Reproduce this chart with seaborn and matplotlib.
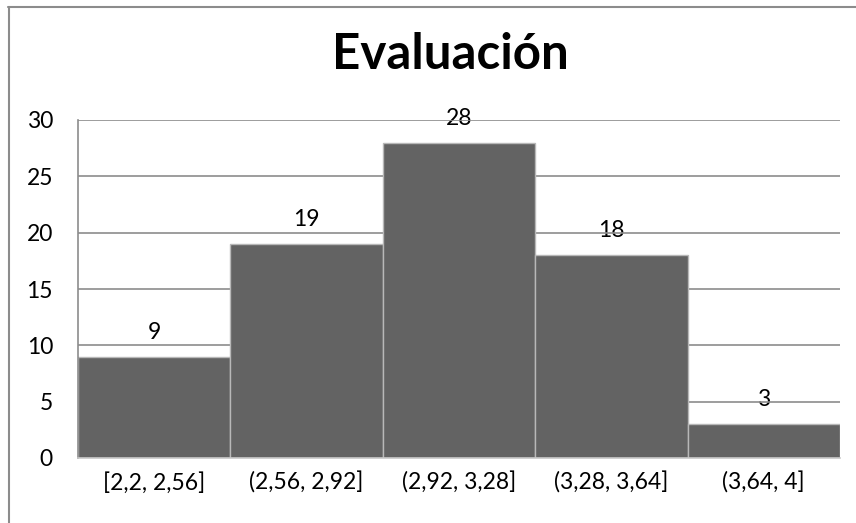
import matplotlib
matplotlib.use("Agg")
import matplotlib.pyplot as plt
from matplotlib.lines import Line2D
import seaborn as sns
import pandas as pd

# Frequency of grades per interval
intervalos = ["[2,2, 2,56]", "(2,56, 2,92]", "(2,92, 3,28]", "(3,28, 3,64]", "(3,64, 4]"]
frecuencias = [9, 19, 28, 18, 3]
y_ticks = [0, 5, 10, 15, 20, 25, 30]
titulo = "Evaluación"

sns.set_theme(style="white")
plt.rcParams["font.family"] = ["Lato", "DejaVu Sans"]

df = pd.DataFrame({"intervalo": intervalos, "frecuencia": frecuencias})

fig = plt.figure(figsize=(8.56, 5.23), dpi=100)
ax = fig.add_axes([78 / 856, 1 - 458 / 523, 762 / 856, 338 / 523])

sns.barplot(data=df, x="intervalo", y="frecuencia", color="#636363",
            saturation=1, width=1.0, edgecolor="#b8b8b8", linewidth=1.0,
            ax=ax, zorder=2)

ax.set_xlim(-0.5, len(intervalos) - 0.5)
ax.set_ylim(0, 30)
ax.set_yticks(y_ticks)
ax.set_xlabel("")
ax.set_ylabel("")

# Horizontal gridlines sit behind the bars but above the value labels
for v in y_ticks[1:]:
    ax.axhline(v, color="#8c8c8c", linewidth=1.2, zorder=1)

for i, v in enumerate(frecuencias):
    ax.annotate(str(v), (i, v), xytext=(0, 10), textcoords="offset points",
                ha="center", va="bottom", fontsize=16.5, color="black", zorder=0.5)

for side in ["top", "right"]:
    ax.spines[side].set_visible(False)
ax.spines["left"].set_color("#8c8c8c")
ax.spines["left"].set_linewidth(1.2)
ax.spines["bottom"].set_color("#c8c8c8")
ax.spines["bottom"].set_linewidth(1.2)

ax.tick_params(axis="y", length=0, pad=18, labelsize=16.5, labelcolor="black")
ax.tick_params(axis="x", length=0, pad=10, labelsize=16.5, labelcolor="black")

fig.text(0.526, 0.896, titulo, ha="center", va="center", fontsize=35.5,
         fontweight="bold", color="black")

# Chart frame (top and left edges)
fig.add_artist(Line2D([8 / 856, 1.0], [1 - 7 / 523, 1 - 7 / 523],
                      transform=fig.transFigure, color="#8c8c8c", linewidth=1.5))
fig.add_artist(Line2D([8.5 / 856, 8.5 / 856], [0.0, 1 - 7 / 523],
                      transform=fig.transFigure, color="#8c8c8c", linewidth=1.5))

fig.savefig("out.png", dpi=100)
